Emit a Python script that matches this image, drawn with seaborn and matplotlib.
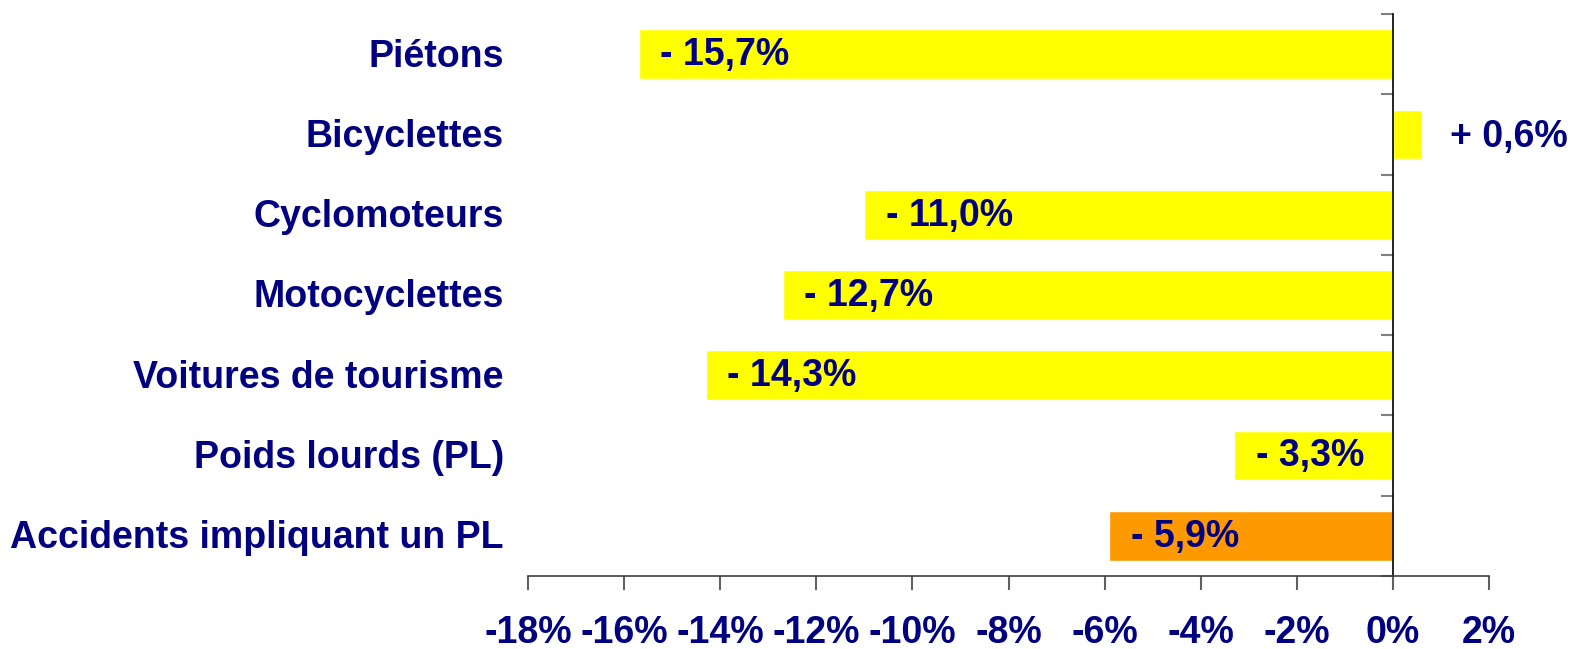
import matplotlib
matplotlib.use("Agg")
import matplotlib.pyplot as plt
import seaborn as sns
import pandas as pd
import numpy as np

categories = ["Piétons", "Bicyclettes", "Cyclomoteurs", "Motocyclettes",
              "Voitures de tourisme", "Poids lourds (PL)", "Accidents impliquant un PL"]
values = [-15.7, 0.6, -11.0, -12.7, -14.3, -3.3, -5.9]
labels = ["- 15,7%", "+ 0,6%", "- 11,0%", "- 12,7%", "- 14,3%", "- 3,3%", "- 5,9%"]
groups = ["usager", "usager", "usager", "usager", "usager", "usager", "accident"]
xticks = [-18, -16, -14, -12, -10, -8, -6, -4, -2, 0, 2]

sns.set_theme(style="white")
plt.rcParams['font.family'] = ['Liberation Sans', 'DejaVu Sans']

navy = "#000080"
df = pd.DataFrame({"cat": categories, "val": values, "grp": groups})

fig = plt.figure(figsize=(15.77, 6.49), dpi=100)
ax = fig.add_axes([528/1577, 1-576/649, (1489-528)/1577, (576-14)/649])

sns.barplot(data=df, x="val", y="cat", hue="grp", orient="h",
            palette={"usager": "#FFFF00", "accident": "#FF9900"},
            width=0.62, dodge=False, legend=False, ax=ax, saturation=1)

ax.set_xlim(-18, 2)
ax.set_ylim(6.5, -0.5)
ax.set_xlabel("")
ax.set_ylabel("")

for s in ["top", "right"]:
    ax.spines[s].set_visible(False)
ax.spines["left"].set_position(("data", 0))
ax.spines["left"].set_color("black")
ax.spines["left"].set_linewidth(1.2)
ax.spines["bottom"].set_color("#404040")
ax.spines["bottom"].set_linewidth(1.2)

ax.set_yticks(np.arange(-0.5, 7.0, 1.0))
ax.set_yticklabels([])
ax.tick_params(axis="y", direction="out", length=9, width=1.5, color="#808080", left=True)

ax.set_xticks(xticks)
ax.set_xticklabels([f"{t}%" for t in xticks])
ax.tick_params(axis="x", direction="out", length=10, width=1.5, color="#606060",
               bottom=True, pad=18, labelsize=27, labelcolor=navy)
for lab in ax.get_xticklabels():
    lab.set_fontweight("bold")

for i, (c, v, l) in enumerate(zip(categories, values, labels)):
    ax.text(-0.025, i + 0.03, c, transform=ax.get_yaxis_transform(), ha="right", va="center",
            fontsize=27, fontweight="bold", color=navy)
    if v < 0:
        ax.text(v + 0.45, i + 0.01, l, ha="left", va="center", fontsize=27,
                fontweight="bold", color=navy)
    else:
        ax.text(v + 0.58, i + 0.03, l, ha="left", va="center", fontsize=27,
                fontweight="bold", color=navy, clip_on=False)

fig.savefig("out.png", dpi=100)
